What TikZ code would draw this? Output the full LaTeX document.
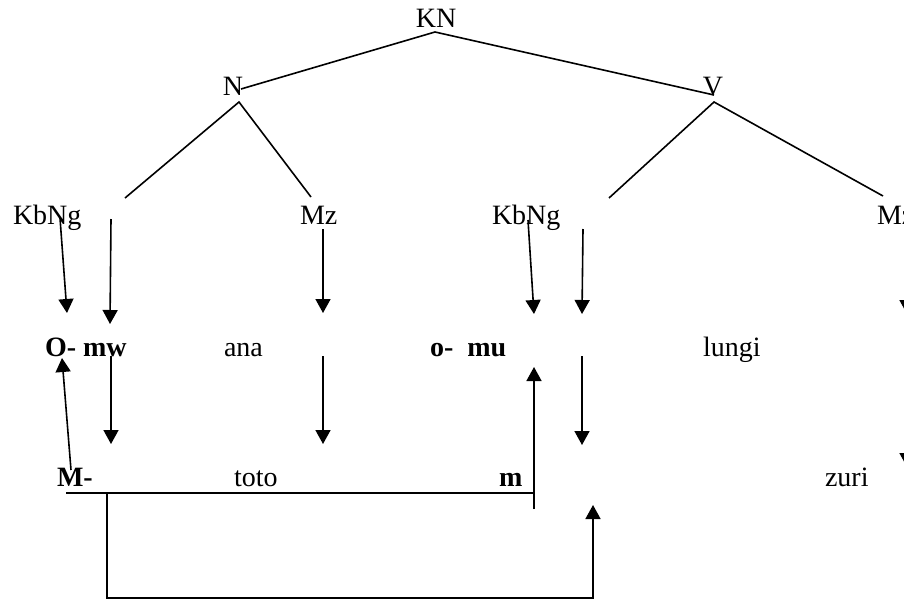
\documentclass[tikz,border=0pt]{standalone}
\usepackage{fontspec}
\setmainfont{Liberation Serif}
\usetikzlibrary{arrows.meta}
\begin{document}
\begin{tikzpicture}[x=1pt,y=-1pt,
  txt/.style={inner sep=0pt,outer sep=0pt,font=\fontsize{28}{32}\selectfont},
  btxt/.style={txt,font=\fontsize{28}{32}\selectfont\bfseries},
  tree/.style={line width=1.6pt},
  arr/.style={line width=1.6pt,-{Triangle[length=14pt,width=15pt]}},
  plain/.style={line width=1.6pt}]
\useasboundingbox (0,0) rectangle (904,600);
% tree labels
\node[txt,anchor=base] (KN) at (436,27) {KN};
\node[txt,anchor=base] (N) at (233,95) {N};
\node[txt,anchor=base] (V) at (713,95) {V};
\node[txt,anchor=base west] (KbNg1) at (13,224) {KbNg};
\node[txt,anchor=base west] (Mz1) at (300,224) {Mz};
\node[txt,anchor=base west] (KbNg2) at (492,224) {KbNg};
\node[txt,anchor=base west] (Mz2) at (877,224) {Mz};
% row 2
\node[btxt,anchor=base west] (Omw) at (45,356) {O- mw};
\node[txt,anchor=base west] (ana) at (224,356) {ana};
\node[btxt,anchor=base west] (omu) at (430,356) {o-\ \ mu};
\node[txt,anchor=base west] (lungi) at (703,356) {lungi};
% row 3
\node[btxt,anchor=base west] (M) at (57,486) {M-};
\node[txt,anchor=base west] (toto) at (234,486) {toto};
\node[btxt,anchor=base west] (m) at (499,486) {m};
\node[txt,anchor=base west] (zuri) at (825,486) {zuri};
% tree coordinates
\coordinate (KNb) at (435,32);
\coordinate (Nt) at (241,89);
\coordinate (Vt) at (714,95);
\coordinate (Nb) at (239,102);
\coordinate (Vb) at (714,102);
\coordinate (c1) at (125,198);
\coordinate (c2) at (311,197);
\coordinate (c3) at (609,198);
\coordinate (c4) at (883,196);
\draw[tree] (Nt) -- (KNb) -- (Vt);
\draw[tree] (c1) -- (Nb) -- (c2);
\draw[tree] (c3) -- (Vb) -- (c4);
% arrows row 1 -> row 2
\coordinate (a1s) at (60,218);   \coordinate (a1e) at (67,313);
\coordinate (a2s) at (111,219);  \coordinate (a2e) at (110,324);
\coordinate (a3s) at (323,229);  \coordinate (a3e) at (323,313);
\coordinate (a4s) at (528,220);  \coordinate (a4e) at (534,314);
\coordinate (a5s) at (583,229);  \coordinate (a5e) at (582,314);
\coordinate (a6s) at (907,229);  \coordinate (a6e) at (907,314);
\foreach \i in {1,...,6} \draw[arr] (a\i s) -- (a\i e);
% arrows row 2 -> row 3
\coordinate (b1s) at (111,356);  \coordinate (b1e) at (111,444);
\coordinate (b2s) at (323,356);  \coordinate (b2e) at (323,444);
\coordinate (b3s) at (582,356);  \coordinate (b3e) at (582,445);
\coordinate (b4s) at (907,380);  \coordinate (b4e) at (907,467);
\foreach \i in {1,...,4} \draw[arr] (b\i s) -- (b\i e);
% upward arrows and brackets
\coordinate (u1s) at (71,470);   \coordinate (u1e) at (62,358);
\coordinate (u2s) at (534,509);  \coordinate (u2e) at (534,367);
\draw[arr] (u1s) -- (u1e);
\draw[arr] (u2s) -- (u2e);
\coordinate (hL) at (66,493);    \coordinate (hR) at (535,493);
\draw[plain] (hL) -- (hR);
\coordinate (k1) at (107,493);   \coordinate (k2) at (107,598);
\coordinate (k3) at (593,598);   \coordinate (k4) at (593,505);
\draw[arr] (k1) -- (k2) -- (k3) -- (k4);
\end{tikzpicture}
\end{document}
